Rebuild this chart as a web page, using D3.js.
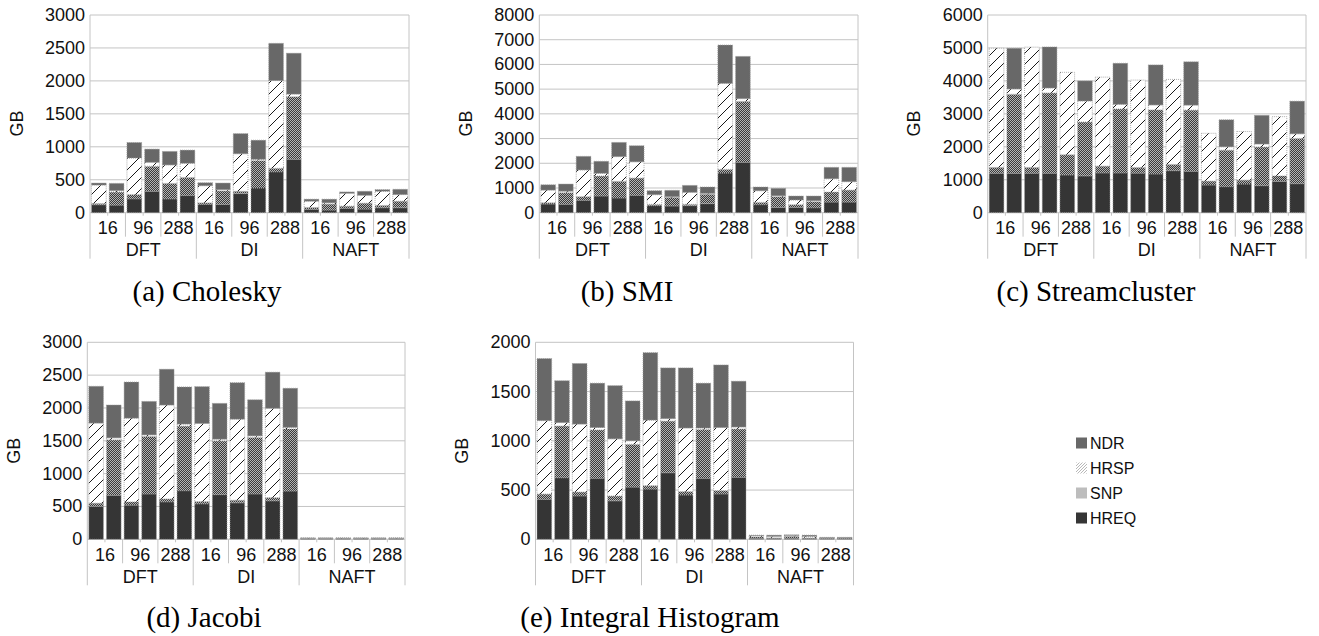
<!DOCTYPE html>
<html>
<head>
<meta charset="utf-8">
<script src="https://cdn.jsdelivr.net/npm/d3@7"></script>
<style>
  body { margin: 0; background: #fff; }
  svg { display: block; }
</style>
</head>
<body>
<svg id="fig" width="1319" height="636"></svg>
<script>
// Category structure shared by all five panels
const groups = ["DFT", "DI", "NAFT"];
const sizes = ["16", "96", "288"];
const seriesNames = ["HREQ", "SNP", "HRSP", "NDR"];
const legendOrder = ["NDR", "HRSP", "SNP", "HREQ"];

// (a) Cholesky, GB per bar (two bars per size)
const choleskyHREQ = [120, 115, 210, 325, 210, 260, 125, 125, 290, 375, 620, 810, 50, 40, 65, 55, 75, 75];
const choleskySNP  = [20, 200, 65, 380, 235, 275, 25, 205, 35, 415, 55, 950, 30, 90, 35, 90, 35, 100];
const choleskyHRSP = [280, 20, 555, 60, 280, 215, 260, 20, 570, 20, 1330, 40, 95, 20, 195, 120, 215, 100];
const choleskyNDR  = [30, 110, 235, 200, 205, 200, 45, 100, 305, 290, 565, 620, 30, 55, 20, 60, 25, 80];
const choleskyTicks = [0, 500, 1000, 1500, 2000, 2500, 3000];

// (b) SMI
const smiHREQ = [350, 340, 500, 675, 595, 700, 285, 270, 285, 365, 1605, 2040, 325, 215, 215, 200, 430, 430];
const smiSNP  = [55, 470, 150, 810, 675, 700, 55, 350, 55, 380, 150, 2465, 95, 430, 110, 245, 405, 485];
const smiHRSP = [510, 60, 1080, 110, 1000, 660, 390, 30, 485, 40, 3480, 110, 470, 40, 190, 40, 540, 340];
const smiNDR  = [215, 290, 550, 485, 575, 650, 160, 255, 280, 255, 1550, 1710, 150, 300, 160, 190, 460, 580];
const smiTicks = [0, 1000, 2000, 3000, 4000, 5000, 6000, 7000, 8000];

// (c) Streamcluster
const streamHREQ = [1195, 1195, 1195, 1195, 1145, 1115, 1205, 1205, 1200, 1175, 1275, 1255, 840, 790, 870, 820, 950, 880];
const streamSNP  = [180, 2400, 180, 2440, 615, 1640, 210, 1945, 175, 1945, 190, 1860, 120, 1110, 120, 1175, 165, 1375];
const streamHRSP = [3615, 160, 3650, 150, 2500, 635, 2700, 140, 2650, 150, 2580, 150, 1450, 100, 1475, 90, 1800, 140];
const streamNDR  = [0, 1235, 0, 1245, 0, 610, 0, 1245, 0, 1215, 0, 1315, 0, 820, 0, 870, 0, 990];
const streamTicks = [0, 1000, 2000, 3000, 4000, 5000, 6000];

// (d) Jacobi
const jacobiHREQ = [500, 670, 520, 690, 570, 740, 540, 680, 555, 690, 585, 735, 12, 12, 12, 12, 12, 12];
const jacobiSNP  = [50, 845, 50, 875, 45, 985, 35, 820, 40, 860, 50, 945, 3, 3, 3, 3, 3, 3];
const jacobiHRSP = [1220, 30, 1275, 25, 1430, 30, 1190, 25, 1235, 25, 1360, 25, 3, 3, 3, 3, 3, 3];
const jacobiNDR  = [560, 500, 550, 510, 545, 565, 560, 545, 555, 550, 550, 595, 2, 2, 2, 2, 2, 2];
const jacobiTicks = [0, 500, 1000, 1500, 2000, 2500, 3000];

// (e) Integral Histogram
const histHREQ = [405, 625, 440, 620, 390, 530, 510, 675, 450, 620, 460, 630, 10, 10, 10, 10, 8, 8];
const histSNP  = [55, 525, 40, 490, 50, 435, 35, 525, 35, 495, 35, 490, 15, 5, 20, 5, 6, 6];
const histHRSP = [745, 35, 690, 25, 580, 35, 665, 25, 645, 15, 640, 20, 12, 15, 10, 15, 3, 3];
const histNDR  = [630, 425, 615, 450, 540, 405, 685, 515, 610, 455, 635, 465, 5, 12, 5, 12, 3, 3];
const histTicks = [0, 500, 1000, 1500, 2000];

const svg = d3.select("#fig");
const defs = svg.append("defs");

// Fine dithered fill for SNP segments
const snpPat = defs.append("pattern").attr("id", "snpFill")
  .attr("patternUnits", "userSpaceOnUse").attr("width", 2).attr("height", 2);
snpPat.append("rect").attr("width", 2).attr("height", 2).attr("fill", "#3a3a3a");
snpPat.append("rect").attr("width", 1).attr("height", 1).attr("fill", "#b4b4b4");
snpPat.append("rect").attr("x", 1).attr("y", 1).attr("width", 1).attr("height", 1).attr("fill", "#b4b4b4");

// Wide diagonal hatch for HRSP segments
const hrPat = defs.append("pattern").attr("id", "hrspFill")
  .attr("patternUnits", "userSpaceOnUse").attr("width", 11).attr("height", 11);
hrPat.append("rect").attr("width", 11).attr("height", 11).attr("fill", "#fff");
hrPat.append("path").attr("d", "M0,11 L11,0 M-2,2 L2,-2 M9,13 L13,9")
  .attr("stroke", "#1a1a1a").attr("stroke-width", 1);

// Light fine hatch for the legend swatch
const hrLeg = defs.append("pattern").attr("id", "hrspLegend")
  .attr("patternUnits", "userSpaceOnUse").attr("width", 3).attr("height", 3);
hrLeg.append("rect").attr("width", 3).attr("height", 3).attr("fill", "#fff");
hrLeg.append("path").attr("d", "M0,3 L3,0 M-1,1 L1,-1 M2,4 L4,2")
  .attr("stroke", "#b0b0b0").attr("stroke-width", 0.9);

const barFill = { HREQ: "#353535", SNP: "url(#snpFill)", HRSP: "url(#hrspFill)", NDR: "#686868" };
const legendFill = { HREQ: "#353535", SNP: "#bdbdbd", HRSP: "url(#hrspLegend)", NDR: "#686868" };

const panels = [
  { caption: "(a) Cholesky", HREQ: choleskyHREQ, SNP: choleskySNP, HRSP: choleskyHRSP, NDR: choleskyNDR,
    ticks: choleskyTicks, x0: 90, x1: 409, y0: 15, y1: 212.7, capX: 207, capY: 301 },
  { caption: "(b) SMI", HREQ: smiHREQ, SNP: smiSNP, HRSP: smiHRSP, NDR: smiNDR,
    ticks: smiTicks, x0: 539.3, x1: 858, y0: 15, y1: 212.7, capX: 627, capY: 301 },
  { caption: "(c) Streamcluster", HREQ: streamHREQ, SNP: streamSNP, HRSP: streamHRSP, NDR: streamNDR,
    ticks: streamTicks, x0: 987.7, x1: 1306, y0: 15, y1: 212.7, capX: 1096, capY: 301 },
  { caption: "(d) Jacobi", HREQ: jacobiHREQ, SNP: jacobiSNP, HRSP: jacobiHRSP, NDR: jacobiNDR,
    ticks: jacobiTicks, x0: 87.3, x1: 405, y0: 342.3, y1: 539.3, capX: 204, capY: 627 },
  { caption: "(e) Integral Histogram", HREQ: histHREQ, SNP: histSNP, HRSP: histHRSP, NDR: histNDR,
    ticks: histTicks, x0: 535.5, x1: 853.5, y0: 342.3, y1: 539.3, capX: 650, capY: 627 }
];

const sansFont = "'Liberation Sans', Arial, sans-serif";
const serifFont = "'Liberation Serif', 'Times New Roman', serif";
const gridColor = "#c4c4c4";

panels.forEach(p => {
  const n = p.HREQ.length;
  const rows = d3.range(n).map(i => ({
    i, HREQ: p.HREQ[i], SNP: p.SNP[i], HRSP: p.HRSP[i], NDR: p.NDR[i]
  }));
  const x = d3.scaleBand().domain(d3.range(n)).range([p.x0, p.x1])
    .paddingInner(0.17).paddingOuter(0.085);
  const step = (p.x1 - p.x0) / n;
  const y = d3.scaleLinear().domain([0, d3.max(p.ticks)]).range([p.y1, p.y0]);
  const g = svg.append("g");

  // horizontal gridlines
  g.selectAll("line.grid").data(p.ticks).join("line")
    .attr("x1", p.x0).attr("x2", p.x1)
    .attr("y1", d => y(d)).attr("y2", d => y(d))
    .attr("stroke", gridColor).attr("stroke-width", 1);

  // y tick labels
  g.selectAll("text.ytick").data(p.ticks).join("text")
    .attr("x", p.x0 - 5).attr("y", d => y(d))
    .attr("text-anchor", "end").attr("dominant-baseline", "central")
    .attr("font-family", sansFont).attr("font-size", 18).attr("fill", "#111")
    .text(d => d);

  // axis title
  g.append("text")
    .attr("transform", `translate(${p.x0 - 73.5},${p.y0 + 108.5}) rotate(-90)`)
    .attr("text-anchor", "middle").attr("dominant-baseline", "central")
    .attr("font-family", sansFont).attr("font-size", 18).attr("fill", "#111")
    .text("GB");

  // stacked bars
  const stacked = d3.stack().keys(seriesNames)(rows);
  stacked.forEach(layer => {
    g.append("g").selectAll("rect").data(layer.filter(d => d[1] - d[0] > 0)).join("rect")
      .attr("x", d => x(d.data.i))
      .attr("width", x.bandwidth())
      .attr("y", d => y(d[1]))
      .attr("height", d => y(d[0]) - y(d[1]))
      .attr("fill", barFill[layer.key])
      .attr("stroke", "#9a9a9a").attr("stroke-width", 0.8)
      .attr("stroke-dasharray", "1 1");
  });

  // category axis: small ticks at bar boundaries
  g.selectAll("line.minor").data(d3.range(1, n).filter(k => k % 2 === 1)).join("line")
    .attr("x1", k => p.x0 + k * step).attr("x2", k => p.x0 + k * step)
    .attr("y1", p.y1).attr("y2", p.y1 + 3)
    .attr("stroke", gridColor);

  // separators between sizes and between groups
  const pairs = n / 2;
  g.selectAll("line.sep").data(d3.range(0, pairs + 1)).join("line")
    .attr("x1", k => p.x0 + k * 2 * step).attr("x2", k => p.x0 + k * 2 * step)
    .attr("y1", k => (k === 0 || k === pairs) ? p.y0 : p.y1)
    .attr("y2", k => (k % 3 === 0) ? p.y1 + 46 : p.y1 + 24)
    .attr("stroke", gridColor).attr("stroke-width", 1);

  // size labels
  const sizeRows = d3.range(pairs).map(k => ({ k, label: sizes[k % 3] }));
  g.selectAll("text.size").data(sizeRows).join("text")
    .attr("x", d => p.x0 + (d.k * 2 + 1) * step).attr("y", p.y1 + 15.5)
    .attr("text-anchor", "middle").attr("dominant-baseline", "central")
    .attr("font-family", sansFont).attr("font-size", 18).attr("fill", "#111")
    .text(d => d.label);

  // group labels
  g.selectAll("text.group").data(groups).join("text")
    .attr("x", (d, j) => p.x0 + (j * 6 + 3) * step).attr("y", p.y1 + 37.5)
    .attr("text-anchor", "middle").attr("dominant-baseline", "central")
    .attr("font-family", sansFont).attr("font-size", 18).attr("fill", "#111")
    .text(d => d);

  // subfigure caption
  svg.append("text")
    .attr("x", p.capX).attr("y", p.capY)
    .attr("text-anchor", "middle")
    .attr("font-family", serifFont).attr("font-size", 29).attr("fill", "#000")
    .text(p.caption);
});

// legend
const leg = svg.append("g");
legendOrder.forEach((name, j) => {
  const cy = 443 + j * 25;
  leg.append("rect").attr("x", 1076).attr("y", cy - 5.5).attr("width", 11).attr("height", 11)
    .attr("fill", legendFill[name]);
  leg.append("text").attr("x", 1090).attr("y", cy)
    .attr("dominant-baseline", "central")
    .attr("font-family", sansFont).attr("font-size", 16).attr("fill", "#111")
    .text(name);
});
</script>
</body>
</html>
